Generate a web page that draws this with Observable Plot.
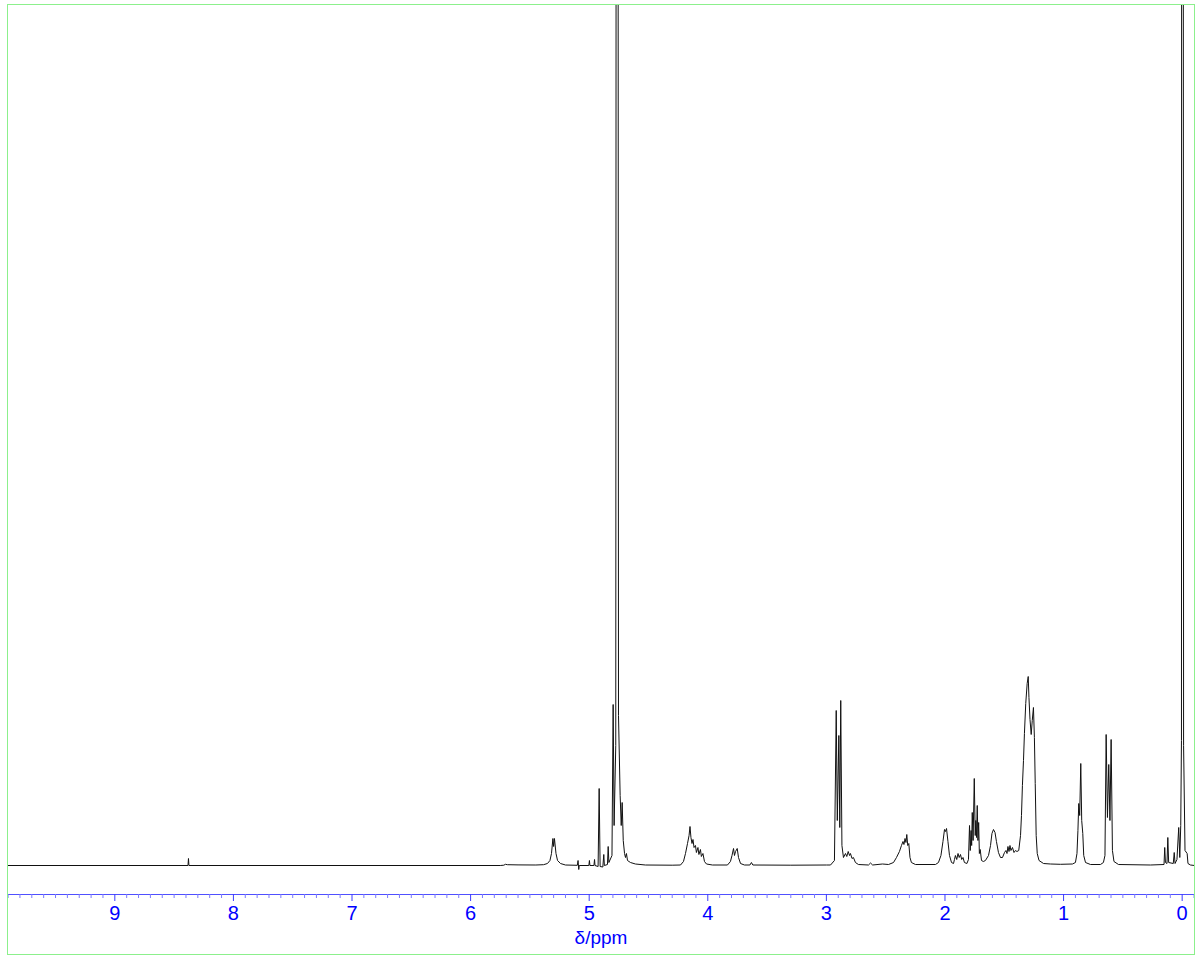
<!DOCTYPE html>
<html><head><meta charset="utf-8">
<script src="https://cdn.jsdelivr.net/npm/d3@7"></script>
<script src="https://cdn.jsdelivr.net/npm/@observablehq/plot@0.6"></script>
<style>body{margin:0;background:#fff}</style>
</head><body><div id="chart"></div>
<script>
// chemical shift (ppm) and intensity
const shiftPpm = [
  9.905, 8.383, 8.379, 8.375, 5.75, 5.72, 5.706, 5.69, 5.60, 5.45,
  5.385, 5.352, 5.331, 5.318, 5.306, 5.300, 5.293, 5.280, 5.267, 5.242, 5.200,
  5.10, 5.094, 5.088, 5.084, 5.003, 4.998, 4.994, 4.960, 4.955, 4.951,
  4.925, 4.916, 4.908, 4.885, 4.877, 4.872, 4.846, 4.840, 4.834, 4.808,
  4.798, 4.790, 4.776, 4.768, 4.762, 4.753, 4.739, 4.730, 4.722, 4.713,
  4.702, 4.694, 4.686, 4.677, 4.652, 4.610, 4.526, 4.30,
  4.230, 4.205, 4.188, 4.171, 4.158, 4.150, 4.142, 4.133, 4.125, 4.116,
  4.104, 4.096, 4.083, 4.075, 4.062, 4.054, 4.041, 4.028, 4.011, 3.961,
  3.834, 3.809, 3.796, 3.783, 3.775, 3.766, 3.752, 3.741, 3.724, 3.691,
  3.645, 3.632, 3.620, 3.30, 3.00,
  2.965, 2.932, 2.917, 2.908, 2.895, 2.887, 2.879, 2.869, 2.856,
  2.839, 2.828, 2.816, 2.805, 2.797, 2.784, 2.772, 2.755, 2.730,
  2.645, 2.628, 2.610, 2.527, 2.476,
  2.434, 2.409, 2.384, 2.367, 2.354, 2.346, 2.337, 2.329, 2.322, 2.314,
  2.305, 2.295, 2.283, 2.249,
  2.080, 2.055, 2.034, 2.017, 2.004, 1.996, 1.987, 1.975, 1.962, 1.945,
  1.928, 1.920, 1.912, 1.901, 1.890, 1.880, 1.869, 1.859, 1.848, 1.836, 1.815,
  1.802, 1.793, 1.787, 1.780, 1.775, 1.770, 1.763, 1.753, 1.745, 1.740,
  1.734, 1.728, 1.722, 1.716, 1.710, 1.703, 1.692, 1.676,
  1.659, 1.633, 1.616, 1.604, 1.591, 1.578, 1.566, 1.549, 1.532,
  1.515, 1.498, 1.486, 1.477, 1.469, 1.460, 1.452, 1.444, 1.431, 1.418,
  1.406, 1.393, 1.378,
  1.363, 1.355, 1.347, 1.338, 1.330, 1.319, 1.307, 1.298, 1.292, 1.283,
  1.273, 1.264, 1.254, 1.246, 1.239, 1.231, 1.222, 1.207, 1.169, 1.110, 1.026,
  0.925, 0.900, 0.887, 0.879, 0.872, 0.864, 0.855, 0.847, 0.838, 0.830,
  0.815, 0.773,
  0.689, 0.664, 0.651, 0.641, 0.630, 0.619, 0.609, 0.599, 0.588, 0.575, 0.537,
  0.267, 0.153, 0.147, 0.141, 0.128, 0.121, 0.114, 0.075, 0.067, 0.060,
  0.044, 0.029, 0.020, 0.012, 0.006, 0.002, -0.005, -0.012, -0.024, -0.042,
  -0.049, -0.070, -0.104
];
const intensity = [
  0, 0, 7, 0, 0, 0.3, 1.2, 0.8, 0.6, 0.5,
  0.8, 2, 5, 12, 27, 19, 27, 12, 5, 2, 0.5,
  0.2, 5, -4, 0, 0, 5, 0, 0, 6, 0,
  -1, 77, -1, -1.5, 11, 0, 1, 19, 3, 10,
  161, 40, 120, 2500, 2500, 150, 70, 40, 63, 25,
  12, 8, 12, 5, 3, 1.5, 0.5, 0.3,
  0.5, 4, 12, 22, 30, 39, 28, 22, 26, 18,
  20, 13, 18, 11, 16, 9, 12, 4, 1.5, 0.5,
  0.5, 4, 10, 17, 10, 14, 17, 8, 2, 0.5,
  0.5, 3, 0.5, 0.3, 0.5,
  0.5, 5, 155, 45, 130, 38, 165, 20, 8,
  12, 9, 14, 10, 12, 7, 8, 3, 1,
  0.5, 2.5, 0.5, 1.5, 1,
  3, 8, 14, 20, 24, 21, 27, 23, 31, 20,
  22, 8, 3, 1,
  1, 3, 10, 24, 36, 34, 37, 24, 10, 3,
  2, 6, 10, 6, 12, 8, 11, 6, 8, 3, 2,
  6, 40, 15, 35, 20, 53, 25, 87, 30, 45,
  28, 60, 25, 43, 12, 16, 5, 4,
  5, 10, 20, 32, 36, 33, 24, 13, 8,
  8, 13, 15, 12, 19, 14, 20, 15, 18, 13,
  15, 14, 15,
  30, 50, 80, 105, 132, 162, 182, 189, 168, 146,
  131, 145, 158, 128, 82, 30, 12, 5, 2, 1.5, 1.2,
  1.5, 3, 12, 35, 62, 50, 102, 45, 32, 10,
  3, 1,
  1, 3, 10, 131, 48, 101, 45, 126, 15, 4, 1,
  0.5, 1, 18, 3, 2, 28, 3, 2, 13, 2,
  6, 38, 8, 40, 125, 2500, 2500, 120, 15, 12,
  2, 0.5, 0
];
const majorTicks = [0, 1, 2, 3, 4, 5, 6, 7, 8, 9];
const tickLabels = ["0", "1", "2", "3", "4", "5", "6", "7", "8", "9"];
const axisTitle = "δ/ppm";

const spectrum = shiftPpm.map((x, i) => ({x, y: intensity[i]}));
const minorTicks = d3.range(-1, 100).map(i => i / 10)
  .filter(v => Math.abs(v - Math.round(v)) > 1e-9);

const chart = Plot.plot({
  width: 1200, height: 961,
  marginTop: 4, marginBottom: 7, marginLeft: 7, marginRight: 6,
  x: {domain: [9.905, -0.104], axis: null},
  y: {domain: [-89, 861], axis: null},
  style: {background: "#fff", fontFamily: "'Liberation Sans', Arial, sans-serif"},
  marks: [
    Plot.line(spectrum, {x: "x", y: "y", stroke: "#111", strokeWidth: 1, clip: true}),
    Plot.ruleY([-29], {stroke: "#5050ff"}),
    Plot.ruleX(minorTicks, {x: d => d, y1: -29, y2: -33, stroke: "#7a7aff"}),
    Plot.ruleX(majorTicks, {x: d => d, y1: -29, y2: -36, stroke: "#3c3cff"}),
    Plot.text(majorTicks, {x: d => d, y: -48, text: (d, i) => tickLabels[i], fill: "#0000ff", fontSize: 20}),
    Plot.text([axisTitle], {frameAnchor: "bottom", dy: -11, text: d => d, fill: "#0000ff", fontSize: 19}),
    Plot.frame({stroke: "#8cf08c"})
  ]
});
document.getElementById("chart").appendChild(chart);
</script>
</body></html>
